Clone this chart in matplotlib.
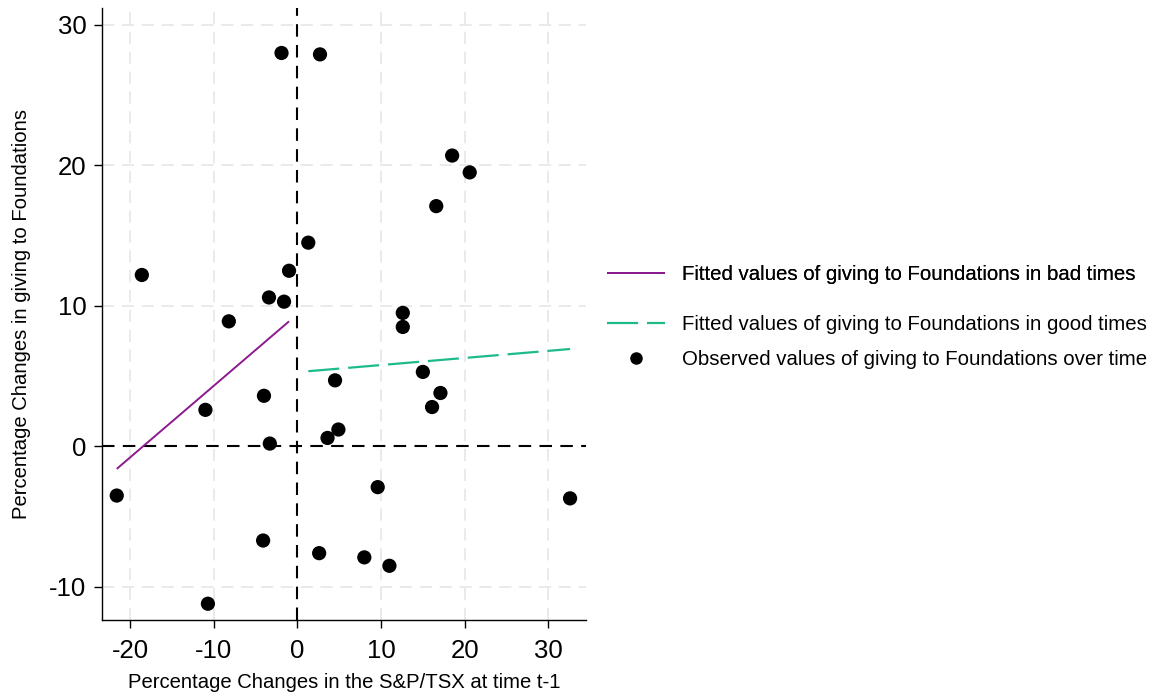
import matplotlib
matplotlib.use("Agg")
import matplotlib.pyplot as plt
from matplotlib.lines import Line2D

plt.rcParams["font.family"] = ["Liberation Sans", "DejaVu Sans"]
plt.rcParams["axes.unicode_minus"] = False

# Percentage change in the S&P/TSX at t-1 and in giving to foundations
market_change = [-1.9, 2.7, 1.3, 18.5, 20.6, 16.6, -18.6, -1.0, -3.4, -1.6,
                 -8.2, -4.0, -11.0, -3.3, 12.6, 12.6, 4.5, 15.0, 17.1, 16.1,
                 4.9, 3.6, -21.6, -4.1, -10.7, 9.6, 32.6, 2.6, 8.0, 11.0]
giving_change = [28.0, 27.9, 14.5, 20.7, 19.5, 17.1, 12.2, 12.5, 10.6, 10.3,
                 8.9, 3.6, 2.6, 0.2, 9.5, 8.5, 4.7, 5.3, 3.8, 2.8,
                 1.2, 0.6, -3.5, -6.7, -11.2, -2.9, -3.7, -7.6, -7.9, -8.5]

# Fitted values (endpoints of each linear fit)
fit_bad_x = [-21.6, -1.0]
fit_bad_y = [-1.6, 8.9]
fit_good_x = [1.3, 32.6]
fit_good_y = [5.35, 6.93]

x_ticks = [-20, -10, 0, 10, 20, 30]
y_ticks = [-10, 0, 10, 20, 30]

PURPLE = "#8c1a8f"
GREEN = "#1dbb8b"

fig = plt.figure(figsize=(11.61, 6.98), dpi=100)
ax = fig.add_axes([0.0876, 0.1117, 0.4171, 0.8768])

ax.set_xlim(-23.4, 34.5)
ax.set_ylim(-12.36, 31.2)

# Light dashed grid
for xv in x_ticks:
    if xv != 0:
        ax.axvline(xv, color="#e4e4e4", lw=1.1, dashes=(8, 5), zorder=0)
for yv in y_ticks:
    if yv != 0:
        ax.axhline(yv, color="#e4e4e4", lw=1.1, dashes=(8, 5), zorder=0)

# Reference lines at zero
ax.axvline(0, color="black", lw=1.5, dashes=(6, 4), zorder=1)
ax.axhline(0, color="black", lw=1.5, dashes=(6, 4), zorder=1)

bad, = ax.plot(fit_bad_x, fit_bad_y, color=PURPLE, lw=1.4, zorder=2,
               solid_capstyle="butt")
good, = ax.plot(fit_good_x, fit_good_y, color=GREEN, lw=1.6, dashes=(14, 4),
                zorder=2)
pts = ax.scatter(market_change, giving_change, s=105, color="black",
                 edgecolors="none", zorder=3)

ax.set_xticks(x_ticks)
ax.set_yticks(y_ticks)
ax.tick_params(axis="both", direction="out", length=6, width=1.0,
               labelsize=18.5, pad=5)
ax.tick_params(axis="x", pad=8)
for side in ("top", "right"):
    ax.spines[side].set_visible(False)
for side in ("left", "bottom"):
    ax.spines[side].set_linewidth(1.0)

ax.set_xlabel("Percentage Changes in the S&P/TSX at time t-1", fontsize=14.6,
              labelpad=7)
ax.set_ylabel("Percentage Changes in giving to Foundations", fontsize=14.6,
              labelpad=13)

# Legend, outside the plot region on the right
leg_kw = dict(frameon=False, fontsize=14.7, handlelength=2.86,
              handletextpad=0.83, borderaxespad=0, borderpad=0,
              loc="center left")
leg1 = fig.legend([bad], ["Fitted values of giving to Foundations in bad times"],
                  bbox_to_anchor=(0.5228, 1 - 275 / 698), **leg_kw)
dot = Line2D([], [], marker="o", ls="none", color="black", markersize=8)
leg2 = fig.legend([good, dot],
                  ["Fitted values of giving to Foundations in good times",
                   "Observed values of giving to Foundations over time"],
                  bbox_to_anchor=(0.5228, 1 - 342 / 698), labelspacing=0.75,
                  **leg_kw)
fig.add_artist(leg1)

fig.savefig("out.png", dpi=100)
